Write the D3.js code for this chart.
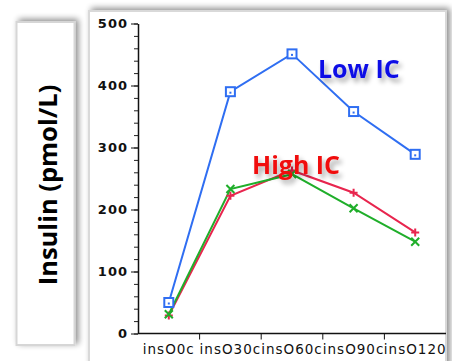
<!DOCTYPE html>
<html>
<head>
<meta charset="utf-8">
<script src="https://cdn.jsdelivr.net/npm/d3@7"></script>
<style>
  html, body { margin: 0; padding: 0; background: #ffffff; }
  svg { display: block; }
</style>
</head>
<body>
<svg id="chart" width="452" height="361"></svg>
<script>
// Insulin time course by IC group
const categories = ["insO0c", "insO30c", "insO60c", "insO90c", "insO120"];
const lowIC = [50, 390, 451, 358, 289];
const highICplus = [29, 222, 263, 227, 163];
const highICcross = [31, 233, 257, 202, 148];
const yTicks = [0, 100, 200, 300, 400, 500];

const svg = d3.select("#chart");
const defs = svg.append("defs");

const blurShadow = defs.append("filter").attr("id", "boxShadow")
  .attr("x", "-30%").attr("y", "-10%").attr("width", "160%").attr("height", "120%");
blurShadow.append("feGaussianBlur").attr("in", "SourceAlpha").attr("stdDeviation", 3).attr("result", "b");
blurShadow.append("feOffset").attr("in", "b").attr("dx", 3).attr("dy", -2).attr("result", "o");
blurShadow.append("feComponentTransfer").attr("in", "o").attr("result", "s")
  .append("feFuncA").attr("type", "linear").attr("slope", 0.45);
const m1 = blurShadow.append("feMerge");
m1.append("feMergeNode").attr("in", "s");
m1.append("feMergeNode").attr("in", "SourceGraphic");

const textShadow = defs.append("filter").attr("id", "textShadow")
  .attr("x", "-20%").attr("y", "-30%").attr("width", "150%").attr("height", "180%");
textShadow.append("feGaussianBlur").attr("in", "SourceAlpha").attr("stdDeviation", 2.5).attr("result", "b");
textShadow.append("feOffset").attr("in", "b").attr("dx", 3).attr("dy", 4).attr("result", "o");
textShadow.append("feComponentTransfer").attr("in", "o").attr("result", "s")
  .append("feFuncA").attr("type", "linear").attr("slope", 0.35);
const m2 = textShadow.append("feMerge");
m2.append("feMergeNode").attr("in", "s");
m2.append("feMergeNode").attr("in", "SourceGraphic");

// Plot panel frame with soft shadow on the right edge
svg.append("rect")
  .attr("x", 89).attr("y", 11).attr("width", 357).attr("height", 360)
  .attr("fill", "#ffffff").attr("stroke", "#d9d9d9").attr("stroke-width", 2)
  .attr("filter", "url(#boxShadow)");

// Y-axis title box
svg.append("rect")
  .attr("x", 16.5).attr("y", 22).attr("width", 58).attr("height", 323)
  .attr("fill", "#ffffff").attr("stroke", "#d6d6d6").attr("stroke-width", 2)
  .attr("filter", "url(#boxShadow)");

svg.append("text")
  .attr("transform", "translate(57,185) rotate(-90)")
  .attr("text-anchor", "middle")
  .attr("font-family", "'Open Sans', 'DejaVu Sans', sans-serif")
  .attr("font-weight", "bold")
  .attr("font-size", 25.5)
  .attr("fill", "#000000")
  .text("Insulin (pmol/L)");

// Scales
const x = d3.scaleBand().domain(categories).range([138, 446]).padding(0);
const y = d3.scaleLinear().domain([0, 500]).range([333.5, 23.5]);

// Minor y ticks
const g = svg.append("g");
g.append("g")
  .attr("transform", "translate(138,0)")
  .call(d3.axisLeft(y).tickValues(d3.range(0, 501, 20)).tickSize(4).tickFormat(""))
  .call(s => s.select(".domain").remove())
  .call(s => s.selectAll("line").attr("stroke", "#222"));

// Major y ticks and labels
g.append("g")
  .attr("transform", "translate(138,0)")
  .call(d3.axisLeft(y).tickValues(yTicks).tickSize(7).tickPadding(3).tickSizeOuter(0))
  .call(s => s.select(".domain").attr("stroke", "#111").attr("stroke-width", 1.5))
  .call(s => s.selectAll("line").attr("stroke", "#111"))
  .call(s => s.selectAll("text")
    .attr("font-family", "'DejaVu Sans', sans-serif")
    .attr("font-weight", "bold")
    .attr("font-size", 13)
    .attr("letter-spacing", 1)
    .attr("fill", "#111"));

// X axis: ticks at the band boundaries, labels at band centers
const xAxis = g.append("g").attr("transform", "translate(0,333.5)");
xAxis.append("line")
  .attr("x1", 138).attr("x2", 446).attr("y1", 0).attr("y2", 0)
  .attr("stroke", "#111").attr("stroke-width", 1.5);
xAxis.selectAll("line.tick")
  .data(categories.slice(1))
  .join("line")
  .attr("class", "tick")
  .attr("x1", d => x(d)).attr("x2", d => x(d))
  .attr("y1", 0).attr("y2", 6)
  .attr("stroke", "#111");
xAxis.selectAll("text")
  .data(categories)
  .join("text")
  .attr("x", d => x(d) + x.bandwidth() / 2)
  .attr("y", 20)
  .attr("text-anchor", "middle")
  .attr("font-family", "'DejaVu Sans', sans-serif")
  .attr("font-size", 13.5)
  .attr("letter-spacing", 1)
  .attr("fill", "#111")
  .text(d => d);

const cx = d => x(d) + x.bandwidth() / 2;
const line = d3.line().x((v, i) => cx(categories[i])).y(v => y(v));

const series = [
  { values: lowIC, color: "#2f6ef2", marker: "square" },
  { values: highICplus, color: "#e8254e", marker: "plus" },
  { values: highICcross, color: "#1fae2a", marker: "cross" }
];

series.forEach(s => {
  g.append("path")
    .datum(s.values)
    .attr("d", line)
    .attr("fill", "none")
    .attr("stroke", s.color)
    .attr("stroke-width", 2);
});

series.forEach(s => {
  const mk = g.append("g");
  s.values.forEach((v, i) => {
    const px = cx(categories[i]), py = y(v);
    if (s.marker === "square") {
      mk.append("rect").attr("x", px - 4.5).attr("y", py - 4.5)
        .attr("width", 9).attr("height", 9)
        .attr("fill", "#ffffff").attr("stroke", s.color).attr("stroke-width", 2);
      mk.append("rect").attr("x", px - 1).attr("y", py)
        .attr("width", 2).attr("height", 2).attr("fill", s.color);
    } else if (s.marker === "plus") {
      mk.append("path")
        .attr("d", `M${px - 4},${py}H${px + 4}M${px},${py - 4}V${py + 4}`)
        .attr("stroke", s.color).attr("stroke-width", 2);
    } else {
      mk.append("path")
        .attr("d", `M${px - 4},${py - 4}L${px + 4},${py + 4}M${px - 4},${py + 4}L${px + 4},${py - 4}`)
        .attr("stroke", s.color).attr("stroke-width", 2);
    }
  });
});

// Group labels
svg.append("text")
  .attr("x", 318).attr("y", 78)
  .attr("font-family", "'Open Sans', sans-serif")
  .attr("font-weight", "bold")
  .attr("font-size", 25)
  .attr("fill", "#1010e6")
  .attr("filter", "url(#textShadow)")
  .text("Low IC");

svg.append("text")
  .attr("x", 252).attr("y", 174)
  .attr("font-family", "'Open Sans', sans-serif")
  .attr("font-weight", "bold")
  .attr("font-size", 25)
  .attr("fill", "#f01010")
  .attr("filter", "url(#textShadow)")
  .text("High IC");
</script>
</body>
</html>
